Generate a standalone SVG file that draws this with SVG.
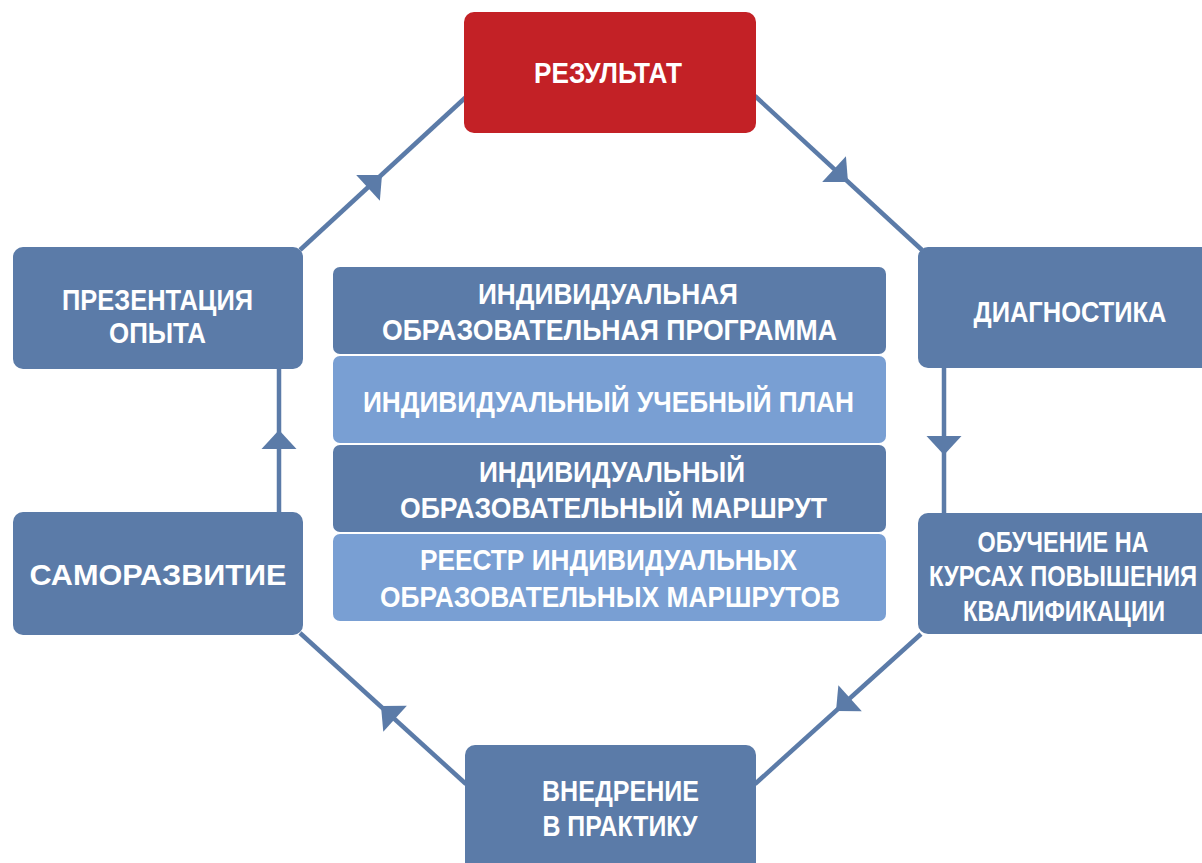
<svg xmlns="http://www.w3.org/2000/svg" width="1202" height="863" viewBox="0 0 1202 863">
<style>
.node{fill:#5B7BA8}
.red{fill:#C32126}
.light{fill:#799FD3}
.t{font-family:"Liberation Sans Narrow","Arial Narrow","Liberation Sans",sans-serif;font-weight:bold;font-size:30px;fill:#fff;text-anchor:middle}
.w{font-family:"Liberation Sans",Arial,sans-serif;font-weight:bold;font-size:30px;fill:#fff;text-anchor:middle}
.ln{stroke:#5B7BA8;stroke-width:4.5;fill:none}
.ah{fill:#5B7BA8}
</style>
<defs>
<path id="ah" d="M0,0 L-19,-17.5 L-19,17.5 Z"/>
</defs>
<rect width="1202" height="863" fill="#fff"/>
<g id="connectors">
<line class="ln" x1="300" y1="250" x2="466" y2="97"/>
<line class="ln" x1="755" y1="96" x2="922" y2="250"/>
<line class="ln" x1="944" y1="368" x2="944" y2="513"/>
<line class="ln" x1="921" y1="634" x2="755" y2="784"/>
<line class="ln" x1="466" y1="784" x2="300" y2="633"/>
<line class="ln" x1="279" y1="513" x2="279" y2="369"/>
<use class="ah" href="#ah" transform="translate(382,175) rotate(-42.6)"/>
<use class="ah" href="#ah" transform="translate(848,182) rotate(42.8)"/>
<use class="ah" href="#ah" transform="translate(944,455) rotate(90)"/>
<use class="ah" href="#ah" transform="translate(836,711) rotate(137.9)"/>
<use class="ah" href="#ah" transform="translate(381,706) rotate(-137.7)"/>
<use class="ah" href="#ah" transform="translate(279,430) rotate(-90)"/>
</g>
<g id="n-result">
<rect class="red" x="464" y="12" width="292" height="121" rx="10"/>
<text class="t" x="608" y="83" textLength="148" lengthAdjust="spacingAndGlyphs">РЕЗУЛЬТАТ</text>
</g>
<g id="n-diag">
<rect class="node" x="918" y="247" width="300" height="121" rx="10"/>
<text class="t" x="1070" y="322" textLength="193" lengthAdjust="spacingAndGlyphs">ДИАГНОСТИКА</text>
</g>
<g id="n-courses">
<rect class="node" x="918" y="513" width="300" height="121" rx="10"/>
<text class="t" x="1063" y="552" textLength="171" lengthAdjust="spacingAndGlyphs">ОБУЧЕНИЕ НА</text>
<text class="t" x="1063" y="586" textLength="268" lengthAdjust="spacingAndGlyphs">КУРСАХ ПОВЫШЕНИЯ</text>
<text class="t" x="1064" y="621" textLength="202" lengthAdjust="spacingAndGlyphs">КВАЛИФИКАЦИИ</text>
</g>
<g id="n-impl">
<rect class="node" x="465" y="745" width="291" height="130" rx="10"/>
<text class="t" x="620.5" y="801" textLength="157" lengthAdjust="spacingAndGlyphs">ВНЕДРЕНИЕ</text>
<text class="t" x="620" y="836" textLength="155" lengthAdjust="spacingAndGlyphs">В ПРАКТИКУ</text>
</g>
<g id="n-self">
<rect class="node" x="13" y="512" width="290" height="123" rx="10"/>
<text class="w" x="158" y="585" textLength="257" lengthAdjust="spacingAndGlyphs">САМОРАЗВИТИЕ</text>
</g>
<g id="n-pres">
<rect class="node" x="13" y="247" width="290" height="122" rx="10"/>
<text class="t" x="157.5" y="310" textLength="191" lengthAdjust="spacingAndGlyphs">ПРЕЗЕНТАЦИЯ</text>
<text class="t" x="157.5" y="343" textLength="97" lengthAdjust="spacingAndGlyphs">ОПЫТА</text>
</g>
<g id="n-iop">
<rect class="node" x="333" y="267" width="553" height="87" rx="7"/>
<text class="t" x="608" y="304" textLength="260" lengthAdjust="spacingAndGlyphs">ИНДИВИДУАЛЬНАЯ</text>
<text class="t" x="609.5" y="340" textLength="455" lengthAdjust="spacingAndGlyphs">ОБРАЗОВАТЕЛЬНАЯ ПРОГРАММА</text>
</g>
<g id="n-iup">
<rect class="light" x="333" y="356" width="553" height="87" rx="7"/>
<text class="t" x="608.5" y="412" textLength="491" lengthAdjust="spacingAndGlyphs">ИНДИВИДУАЛЬНЫЙ УЧЕБНЫЙ ПЛАН</text>
</g>
<g id="n-iom">
<rect class="node" x="333" y="445" width="553" height="87" rx="7"/>
<text class="t" x="612" y="482" textLength="266" lengthAdjust="spacingAndGlyphs">ИНДИВИДУАЛЬНЫЙ</text>
<text class="t" x="613.5" y="518" textLength="427" lengthAdjust="spacingAndGlyphs">ОБРАЗОВАТЕЛЬНЫЙ МАРШРУТ</text>
</g>
<g id="n-reg">
<rect class="light" x="333" y="534" width="553" height="87" rx="7"/>
<text class="t" x="608.5" y="570" textLength="377" lengthAdjust="spacingAndGlyphs">РЕЕСТР ИНДИВИДУАЛЬНЫХ</text>
<text class="t" x="610" y="607" textLength="460" lengthAdjust="spacingAndGlyphs">ОБРАЗОВАТЕЛЬНЫХ МАРШРУТОВ</text>
</g>
</svg>
